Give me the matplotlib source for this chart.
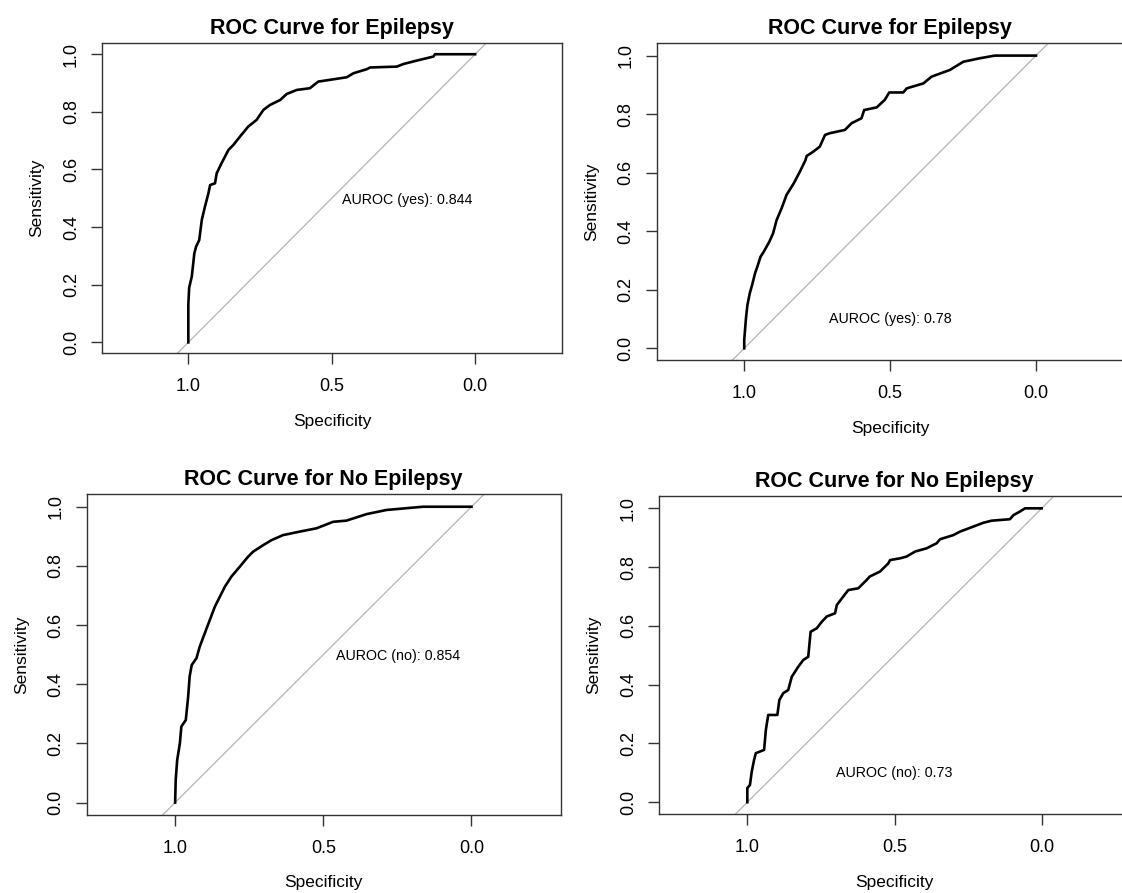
import matplotlib
matplotlib.use("Agg")
import matplotlib.pyplot as plt

plt.rcParams['font.family'] = ['Liberation Sans', 'DejaVu Sans']

# ---------------- data (specificity, sensitivity) ----------------
titles = ["ROC Curve for Epilepsy", "ROC Curve for Epilepsy",
          "ROC Curve for No Epilepsy", "ROC Curve for No Epilepsy"]
auc_labels = ["AUROC (yes): 0.844", "AUROC (yes): 0.78",
              "AUROC (no): 0.854", "AUROC (no): 0.73"]

spec_a = [1.0, 1.0, 0.997, 0.988, 0.979, 0.973, 0.962, 0.953, 0.942, 0.930, 0.924,
          0.907, 0.901, 0.884, 0.860, 0.843, 0.820, 0.791, 0.762, 0.738, 0.715,
          0.680, 0.657, 0.622, 0.576, 0.547, 0.494, 0.448, 0.424, 0.378, 0.366,
          0.273, 0.250, 0.203, 0.145, 0.140, 0.0]
sens_a = [0.0, 0.13, 0.19, 0.228, 0.309, 0.332, 0.355, 0.425, 0.471, 0.517, 0.546,
          0.552, 0.587, 0.622, 0.668, 0.685, 0.714, 0.749, 0.772, 0.807, 0.824,
          0.841, 0.862, 0.876, 0.882, 0.905, 0.913, 0.920, 0.934, 0.948, 0.954,
          0.957, 0.966, 0.978, 0.992, 1.0, 1.0]

spec_b = [1.0, 1.0, 0.994, 0.989, 0.981, 0.973, 0.963, 0.955, 0.944, 0.933, 0.914,
          0.901, 0.889, 0.872, 0.855, 0.830, 0.809, 0.790, 0.786, 0.763, 0.741,
          0.723, 0.706, 0.655, 0.632, 0.598, 0.589, 0.546, 0.518, 0.503, 0.455,
          0.443, 0.386, 0.358, 0.295, 0.249, 0.192, 0.141, 0.0]
sens_b = [0.0, 0.028, 0.103, 0.148, 0.188, 0.216, 0.256, 0.279, 0.313, 0.330, 0.364,
          0.393, 0.438, 0.478, 0.524, 0.564, 0.604, 0.643, 0.657, 0.672, 0.689,
          0.729, 0.735, 0.746, 0.769, 0.786, 0.814, 0.823, 0.849, 0.874, 0.874,
          0.888, 0.905, 0.928, 0.951, 0.979, 0.991, 1.0, 1.0]

spec_c = [1.0, 0.998, 0.993, 0.984, 0.979, 0.964, 0.956, 0.951, 0.944, 0.928, 0.917,
          0.900, 0.883, 0.866, 0.849, 0.832, 0.810, 0.782, 0.754, 0.737, 0.703,
          0.675, 0.636, 0.579, 0.523, 0.467, 0.422, 0.354, 0.287, 0.186, 0.163, 0.0]
sens_c = [0.0, 0.077, 0.144, 0.200, 0.257, 0.279, 0.358, 0.426, 0.465, 0.488, 0.527,
          0.572, 0.617, 0.662, 0.696, 0.730, 0.764, 0.797, 0.831, 0.848, 0.870,
          0.887, 0.904, 0.916, 0.927, 0.949, 0.953, 0.975, 0.989, 0.998, 1.0, 1.0]

spec_d = [1.0, 1.0, 0.991, 0.985, 0.977, 0.971, 0.943, 0.937, 0.929, 0.898, 0.891,
          0.878, 0.861, 0.849, 0.827, 0.810, 0.793, 0.785, 0.764, 0.747, 0.730,
          0.702, 0.696, 0.674, 0.657, 0.623, 0.595, 0.584, 0.549, 0.521, 0.515,
          0.481, 0.459, 0.430, 0.391, 0.357, 0.345, 0.300, 0.277, 0.232, 0.198,
          0.170, 0.108, 0.096, 0.074, 0.057, 0.0]
sens_d = [0.0, 0.048, 0.059, 0.104, 0.144, 0.167, 0.178, 0.246, 0.297, 0.297, 0.348,
          0.371, 0.382, 0.427, 0.461, 0.484, 0.495, 0.580, 0.592, 0.614, 0.632,
          0.643, 0.671, 0.700, 0.722, 0.728, 0.756, 0.768, 0.785, 0.813, 0.824,
          0.830, 0.836, 0.853, 0.864, 0.881, 0.895, 0.909, 0.921, 0.938, 0.951,
          0.958, 0.963, 0.977, 0.989, 1.0, 1.0]

xticks = [1.0, 0.5, 0.0]
yticks = [0.0, 0.2, 0.4, 0.6, 0.8, 1.0]

# ---------------- layout (pixel boxes) ----------------
W, H = 1122, 893
fig = plt.figure(figsize=(W / 100, H / 100), dpi=100)

panels = [
    dict(box=(102, 42.7, 562, 353.3), xlim=(1.301, -0.303), ylim=(-0.038, 1.040),
         spec=spec_a, sens=sens_a, tpos=(0.236, 0.494)),
    dict(box=(656.7, 43.3, 1123.5, 360), xlim=(1.300, -0.300), ylim=(-0.040, 1.042),
         spec=spec_b, sens=sens_b, tpos=(0.5, 0.10)),
    dict(box=(86.8, 494.3, 560.7, 815), xlim=(1.298, -0.301), ylim=(-0.042, 1.042),
         spec=spec_c, sens=sens_c, tpos=(0.249, 0.496)),
    dict(box=(659, 496, 1130, 814), xlim=(1.300, -0.300), ylim=(-0.040, 1.042),
         spec=spec_d, sens=sens_d, tpos=(0.5, 0.10)),
]

frame_col = '#333333'
for i, p in enumerate(panels):
    l, t, r, b = p['box']
    ax = fig.add_axes([l / W, (H - b) / H, (r - l) / W, (b - t) / H])
    ax.plot(p['spec'], p['sens'], color='black', lw=1.9, zorder=3)
    ax.axline((1, 0), (0, 1), color='#b4b4b4', lw=0.9, zorder=2)
    ax.set_xlim(*p['xlim'])
    ax.set_ylim(*p['ylim'])
    ax.set_xticks(xticks)
    ax.set_xticklabels([f"{v:.1f}" for v in xticks])
    ax.set_yticks(yticks)
    ax.set_yticklabels([f"{v:.1f}" for v in yticks], rotation=90, va='center')
    ax.tick_params(axis='both', direction='out', length=8, width=1.0,
                   color=frame_col, labelsize=13, labelcolor='black')
    ax.tick_params(axis='x', pad=10)
    ax.tick_params(axis='y', pad=8)
    for s in ax.spines.values():
        s.set_color(frame_col)
        s.set_linewidth(1.0)
    ax.set_title(titles[i], fontsize=15.5, fontweight='bold', pad=6.5)
    bh = b - t
    bw = r - l
    ax.text(0.5, -68 / bh, "Specificity", transform=ax.transAxes,
            ha='center', va='center', fontsize=12.5)
    ax.text(-65 / bw, 0.5, "Sensitivity", transform=ax.transAxes,
            ha='center', va='center', rotation=90, fontsize=12.5)
    ax.text(p['tpos'][0], p['tpos'][1], auc_labels[i], ha='center', va='center',
            fontsize=10.3)

fig.savefig("out.png", dpi=100)
